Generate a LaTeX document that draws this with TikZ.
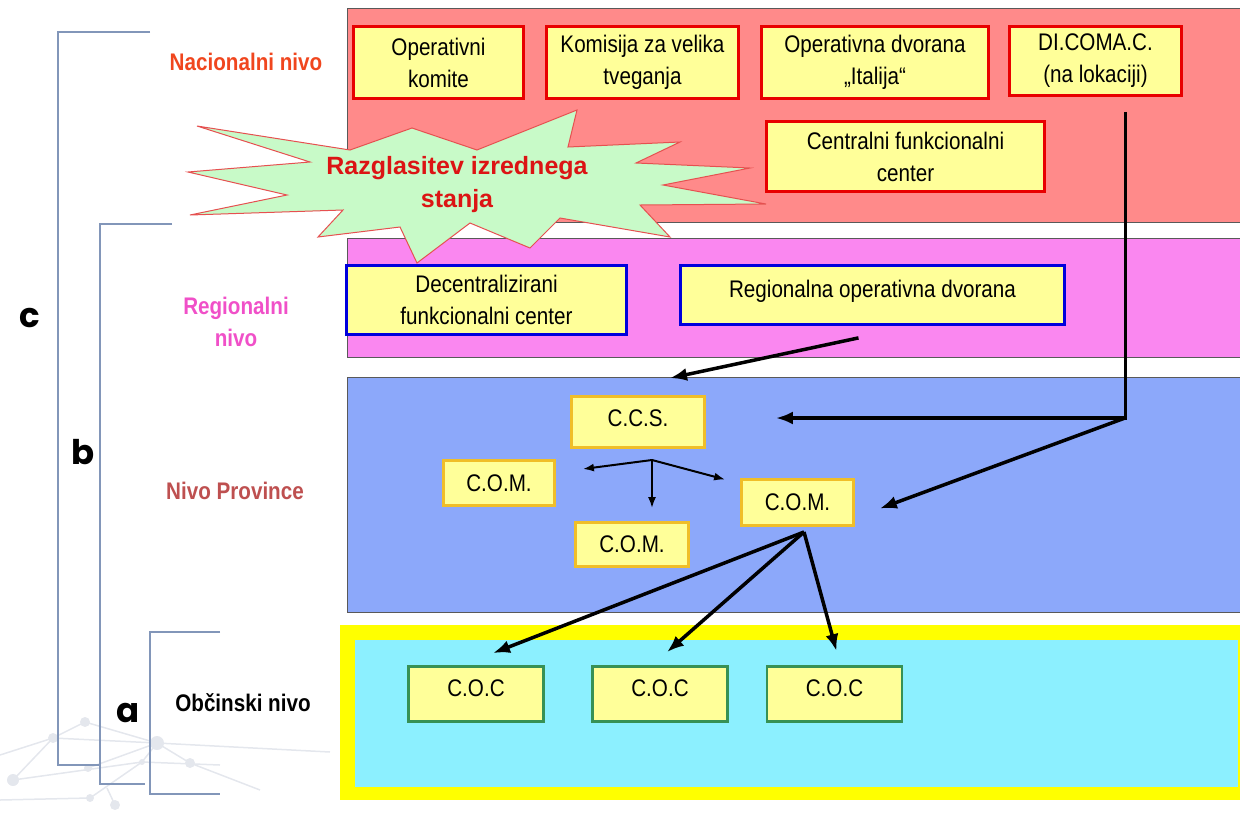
\documentclass[tikz,border=0pt]{standalone}
\usepackage{fontspec}
\setmainfont{Liberation Sans}[FakeStretch=0.86]
\newfontfamily\burstfont{Liberation Sans}
\newfontfamily\letterfont{Poppins}
\usepackage{tikz}
\usetikzlibrary{backgrounds,arrows.meta}
\definecolor{xnat}{RGB}{255,138,138}
\definecolor{xreg}{RGB}{250,135,240}
\definecolor{xprov}{RGB}{140,168,250}
\definecolor{xobc}{RGB}{140,240,255}
\definecolor{xframe}{RGB}{255,255,0}
\definecolor{xcard}{RGB}{255,255,153}
\definecolor{xredline}{RGB}{232,0,0}
\definecolor{xblueline}{RGB}{0,0,220}
\definecolor{xgoldline}{RGB}{240,190,40}
\definecolor{xgreenline}{RGB}{55,145,85}
\definecolor{xburst}{RGB}{200,250,200}
\definecolor{xburstline}{RGB}{230,80,80}
\definecolor{xbracket}{RGB}{130,150,185}
\definecolor{xweb}{RGB}{228,231,237}
\definecolor{xnattext}{RGB}{240,70,30}
\definecolor{xregtext}{RGB}{240,80,200}
\definecolor{xprovtext}{RGB}{190,80,80}
\definecolor{xbursttext}{RGB}{220,20,20}

\begin{document}
\begin{tikzpicture}[x=1pt, y=-1pt, every node/.style={font=\fontsize{24}{32}\selectfont},
			card/.style={rectangle, fill=xcard, line width=2.8pt, inner sep=0pt, align=center},
			redcard/.style={card, draw=xredline},
			bluecard/.style={card, draw=xblueline},
			goldcard/.style={card, draw=xgoldline},
			greencard/.style={card, draw=xgreenline},
			band/.style={draw=black!65, line width=0.8pt},
			lvltext/.style={font=\fontsize{24}{32}\selectfont\bfseries, align=center},
			letter/.style={font=\letterfont\fontsize{34}{34}\selectfont\bfseries},
			bracket/.style={draw=xbracket, line width=1.3pt},
			arrowbig/.style={-{Latex[length=17pt, width=13pt]}, line width=3.5pt},
			arrowsmall/.style={-{Latex[length=11pt, width=8pt]}, line width=2pt}]
			\useasboundingbox (0,0) rectangle (1240,812);
			\begin{scope}[on background layer]
				% faint network in the corner
				\draw[xweb, line width=1.5pt] (0,755) -- (53,738) -- (157,743) -- (330,752);
				\draw[xweb, line width=1.5pt] (13,780) -- (53,738) -- (85,722) -- (157,743) -- (190,763) -- (260,790);
				\draw[xweb, line width=1.5pt] (13,780) -- (142,762) -- (157,743) -- (88,768);
				\draw[xweb, line width=1.5pt] (0,800) -- (90,798) -- (142,762) -- (220,765);
				\draw[xweb, line width=1.5pt] (107,788) -- (115,805);
				\fill[xweb] (85,722) circle (5) (53,738) circle (5) (157,743) circle (7) (190,763) circle (5)
					(142,762) circle (3) (88,768) circle (4) (13,780) circle (6) (90,798) circle (4) (115,805) circle (5);
				% level bands
				\filldraw[band, fill=xnat] (347,8) rectangle (1250,222);
				\filldraw[band, fill=xreg] (347,238) rectangle (1250,357);
				\filldraw[band, fill=xprov] (347,377) rectangle (1250,612);
				\fill[xframe] (340,625) rectangle (1250,800);
				\fill[xobc] (355,640) rectangle (1238,787);
			\end{scope}
			% brackets
			\draw[bracket] (150,32) -- (58,32) -- (58,765) -- (100,765);
			\draw[bracket] (172,224) -- (100,224) -- (100,784) -- (145,784);
			\draw[bracket] (220,632) -- (150,632) -- (150,794) -- (220,794);
			\node[letter] at (30,318) (lc) {c};
			\node[letter] at (83,452) (lb) {b};
			\node[letter] at (128,713) (la) {a};
			\node[lvltext, text=xnattext] at (246,62) (nat) {Nacionalni nivo};
			\node[lvltext, text=xregtext] at (236,322) (reg) {Regionalni\\nivo};
			\node[lvltext, text=xprovtext] at (235,491) (prov) {Nivo Province};
			\node[lvltext] at (243,703) (obc) {Občinski nivo};
			% emergency burst
			\draw[fill=xburst, draw=xburstline, line width=1pt] (197,126) -- (350,150) -- (412,128) -- (477,150) -- (577,110)
				-- (568,147) -- (680,142) -- (636,163) -- (750,168) -- (663,185) -- (766,204) -- (640,205)
				-- (670,237) -- (560,218) -- (530,248) -- (470,223) -- (417,263) -- (400,227) -- (318,237)
				-- (343,210) -- (190,215) -- (287,195) -- (188,172) -- (310,162) -- cycle;
			\node[font=\burstfont\fontsize{25}{33}\selectfont\bfseries, text=xbursttext, align=center] at (457,185) (burst) {Razglasitev izrednega\\stanja};
			% national level
			\node[redcard, minimum width=170, minimum height=72] at (438.5, 62.5) (opkom) {Operativni\\komite};
			\node[redcard, minimum width=192, minimum height=72] at (642.5, 62.5) (komis) {Komisija za velika\\tveganja};
			\node[redcard, minimum width=227, minimum height=72] at (875, 62.5) (opdvor) {Operativna dvorana\\„Italija“};
			\node[redcard, minimum width=172, minimum height=69] at (1095.5, 61) (dicomac) {DI.COMA.C.\\(na lokaciji)};
			\node[redcard, minimum width=278, minimum height=70] at (905.5, 156.5) (cfc) {Centralni funkcionalni\\center};
			% regional level
			\node[bluecard, minimum width=280, minimum height=69] at (486.5, 300) (decfc) {Decentralizirani\\funkcionalni center};
			\node[bluecard, minimum width=384, text height=31.5pt, text depth=27.5pt] at (872.5, 295) (regop) {Regionalna operativna dvorana};
			% province level
			\node[goldcard, minimum width=133, text height=29.5pt, text depth=21.5pt] at (638, 422) (ccs) {C.C.S.};
			\node[goldcard, minimum width=111, minimum height=45] at (499, 483) (coml) {C.O.M.};
			\node[goldcard, minimum width=113, minimum height=44] at (632, 544.5) (comb) {C.O.M.};
			\node[goldcard, minimum width=112, minimum height=46] at (797.5, 502.5) (comr) {C.O.M.};
			% municipal level
			\node[greencard, minimum width=135, text height=29.5pt, text depth=25.5pt] at (476, 694) (coc1) {C.O.C};
			\node[greencard, minimum width=135, text height=29.5pt, text depth=25.5pt] at (660, 694) (coc2) {C.O.C};
			\node[greencard, minimum width=135, text height=29.5pt, text depth=25.5pt] at (834.5, 694) (coc3) {C.O.C};
			% links
			\coordinate (split) at (1125,418);
			\coordinate (fork) at (652,460);
			\draw[arrowbig] ([shift={(-14,12)}]regop.south) -- ([shift={(32,-17)}]ccs.north);
			\draw[line width=3.5pt] ([shift={(30,15)}]dicomac.south) |- (split);
			\draw[arrowbig, line width=4.5pt] (split) -- ([shift={(70,-4)}]ccs.east);
			\draw[arrowbig] (split) -- ([shift={(25,6)}]comr.east);
			\draw[arrowsmall] (fork) -- ([shift={(27,-14)}]coml.east);
			\draw[arrowsmall] (fork) -- ([shift={(-15,-23)}]comr.west);
			\draw[arrowsmall] (fork) -- ([shift={(20,-13)}]comb.north);
			\coordinate (spread) at (804,532);
			\draw[arrowbig] (spread) -- ([shift={(17,-12)}]coc1.north);
			\draw[arrowbig] (spread) -- ([shift={(7,-13)}]coc2.north);
			\draw[arrowbig] (spread) -- ([shift={(2,-14)}]coc3.north);
		\end{tikzpicture}
\end{document}
